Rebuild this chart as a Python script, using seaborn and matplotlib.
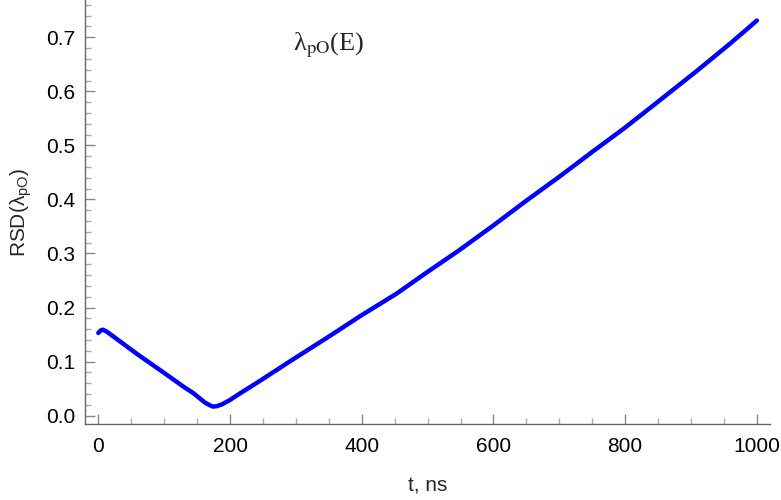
import numpy as np
import pandas as pd
import matplotlib
matplotlib.use("Agg")
import matplotlib.pyplot as plt
from matplotlib.ticker import MultipleLocator, FormatStrFormatter
import seaborn as sns

# 読み取った値
t_ns = [0, 4, 7, 12, 20, 30, 60, 100, 130, 145, 155, 162, 168, 174, 180, 188,
        200, 215, 245, 293, 351, 400, 452, 500, 548, 600, 648, 700, 750, 800,
        850, 908, 960, 1000]
rsd = [0.153, 0.158, 0.159, 0.156, 0.149, 0.140, 0.113, 0.079, 0.053, 0.041,
       0.031, 0.024, 0.020, 0.0167, 0.0175, 0.021, 0.029, 0.041, 0.064, 0.102,
       0.147, 0.186, 0.225, 0.266, 0.306, 0.352, 0.396, 0.442, 0.488, 0.533,
       0.581, 0.637, 0.689, 0.731]

df = pd.DataFrame({"t": t_ns, "rsd": rsd})

sns.set_style("ticks")
plt.rcParams["font.family"] = ["Liberation Sans", "DejaVu Sans"]
plt.rcParams["mathtext.fontset"] = "custom"
plt.rcParams["mathtext.rm"] = "Liberation Sans"
plt.rcParams["mathtext.it"] = "Liberation Sans:italic"

fig = plt.figure(figsize=(7.81, 5.0), dpi=100)
ax = fig.add_axes([0.109, 0.152, 0.877, 0.848])

sns.lineplot(data=df, x="t", y="rsd", color="#0000ff", linewidth=3.2, ax=ax)

ax.set_xlim(-20, 1020)
ax.set_ylim(-0.0155, 0.769)
ax.xaxis.set_major_locator(MultipleLocator(200))
ax.xaxis.set_minor_locator(MultipleLocator(50))
ax.yaxis.set_major_locator(MultipleLocator(0.1))
ax.yaxis.set_minor_locator(MultipleLocator(0.02))
ax.yaxis.set_major_formatter(FormatStrFormatter("%.1f"))

sns.despine(ax=ax)
for s in ["left", "bottom"]:
    ax.spines[s].set_color("#666666")
    ax.spines[s].set_linewidth(1.0)

ax.tick_params(which="major", direction="in", length=7, width=1.0,
               color="#888888", labelsize=15, labelcolor="black")
ax.tick_params(which="minor", direction="in", length=4, width=1.0, color="#aaaaaa")
ax.tick_params(axis="x", which="major", pad=9)
ax.tick_params(axis="y", which="major", pad=7)

ax.set_xlabel("t, ns", fontsize=15, labelpad=15)
ax.set_ylabel("RSD(λ$_{\\mathrm{pO}}$)", fontsize=15, labelpad=9)

ax.text(295, 0.686, "λ$_{\\mathrm{pO}}$(E)", fontsize=19,
        family=["Liberation Serif", "DejaVu Serif"], math_fontfamily="stix",
        va="center", ha="left")

fig.savefig("out.png", dpi=100)
